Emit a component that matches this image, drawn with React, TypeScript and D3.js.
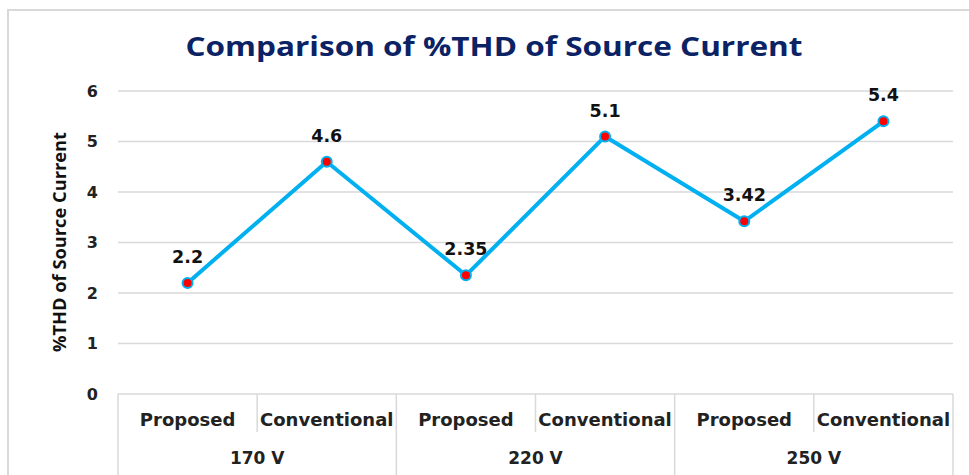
import * as d3 from "d3";

const groups = ["170 V", "220 V", "250 V"];
const methods = ["Proposed", "Conventional"];
const thdValues = [2.2, 4.6, 2.35, 5.1, 3.42, 5.4];
const valueLabels = ["2.2", "4.6", "2.35", "5.1", "3.42", "5.4"];
const yTicks = [0, 1, 2, 3, 4, 5, 6];

const W = 969;
const H = 475;
const LINE = "#00B0F0";
const GRID = "#d9d9d9";
const BODY_FONT = "'DejaVu Sans', Verdana, sans-serif";
const TITLE_FONT = "'Open Sans', 'Liberation Sans', sans-serif";

export default function App() {
  const left = 118;
  const right = 953;
  const top = 91;
  const bottom = 394;

  const cats = groups.flatMap((g) => methods.map((m) => `${g}|${m}`));
  const x = d3.scaleBand<string>().domain(cats).range([left, right]);
  const y = d3.scaleLinear().domain([0, 6]).range([bottom, top]);

  const pts = thdValues.map((v, i) => ({
    cx: (x(cats[i]) ?? 0) + x.bandwidth() / 2,
    cy: y(v),
    label: valueLabels[i],
  }));

  const line = d3
    .line<{ cx: number; cy: number }>()
    .x((d) => d.cx)
    .y((d) => d.cy);

  const groupW = x.bandwidth() * methods.length;

  return (
    <svg
      width={W}
      height={H}
      style={{ position: "absolute", left: 0, top: 0, background: "#fff" }}
    >
      {/* chart area border */}
      <rect x={8} y={10} width={W + 10} height={H} fill="#fff" stroke={GRID} strokeWidth={2} />

      <text
        x={494}
        y={56}
        textAnchor="middle"
        fill="#0B2265"
        fontFamily={TITLE_FONT}
        fontWeight={700}
        fontSize={26}
        textLength={617}
        lengthAdjust="spacingAndGlyphs"
      >
        Comparison of %THD of Source Current
      </text>

      {/* gridlines */}
      {yTicks.map((t) => (
        <g key={t}>
          {t > 0 && (
            <line x1={left} x2={right} y1={y(t)} y2={y(t)} stroke={GRID} strokeWidth={1.5} />
          )}
          <text
            x={98}
            y={y(t)}
            dy="0.35em"
            textAnchor="end"
            fontFamily={BODY_FONT}
            fontWeight={700}
            fontSize={16}
            fill="#222"
          >
            {t}
          </text>
        </g>
      ))}

      <text
        transform="translate(66,242) rotate(-90)"
        textAnchor="middle"
        fontFamily={TITLE_FONT}
        fontWeight={700}
        fontSize={17}
        fill="#111"
        textLength={220}
        lengthAdjust="spacingAndGlyphs"
      >
        %THD of Source Current
      </text>

      {/* category axis table */}
      <line x1={left} x2={right} y1={bottom} y2={bottom} stroke={GRID} strokeWidth={1.5} />
      {cats.map((c, i) => {
        const bx = x(c) ?? 0;
        const isGroupEdge = i % methods.length === 0;
        return (
          <g key={c}>
            <line
              x1={bx}
              x2={bx}
              y1={bottom}
              y2={isGroupEdge ? H : 432}
              stroke={GRID}
              strokeWidth={1.5}
            />
            <text
              x={bx + x.bandwidth() / 2}
              y={420}
              dy="0.35em"
              textAnchor="middle"
              fontFamily={BODY_FONT}
              fontWeight={700}
              fontSize={18}
              fill="#222"
            >
              {c.split("|")[1]}
            </text>
          </g>
        );
      })}
      <line x1={right} x2={right} y1={bottom} y2={H} stroke={GRID} strokeWidth={1.5} />
      {groups.map((g, gi) => (
        <text
          key={g}
          x={left + groupW * gi + groupW / 2}
          y={458}
          dy="0.35em"
          textAnchor="middle"
          fontFamily={BODY_FONT}
          fontWeight={700}
          fontSize={17}
          fill="#222"
        >
          {g}
        </text>
      ))}

      {/* series */}
      <path d={line(pts) ?? ""} fill="none" stroke={LINE} strokeWidth={4} strokeLinejoin="round" />
      {pts.map((p, i) => (
        <g key={i}>
          <circle cx={p.cx} cy={p.cy} r={5} fill="#ff0000" stroke={LINE} strokeWidth={2} />
          <text
            x={p.cx}
            y={p.cy - 26}
            dy="0.35em"
            textAnchor="middle"
            fontFamily={BODY_FONT}
            fontWeight={700}
            fontSize={17.5}
            fill="#111"
          >
            {p.label}
          </text>
        </g>
      ))}
    </svg>
  );
}
